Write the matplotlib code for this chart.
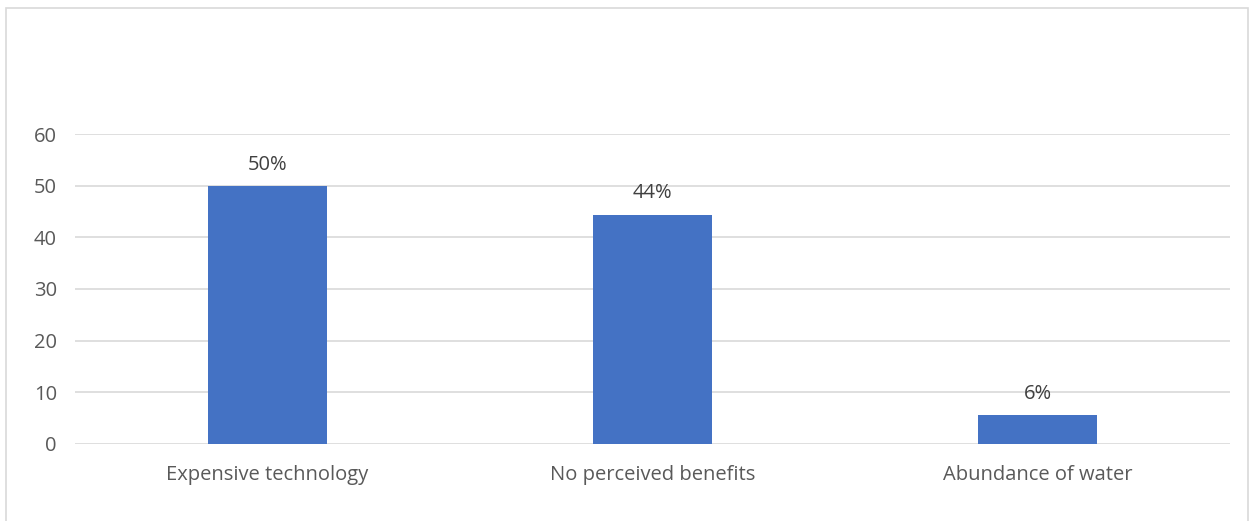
import matplotlib.pyplot as plt
from matplotlib.patches import Rectangle

categories = ['Expensive technology', 'No perceived benefits', 'Abundance of water']
values = [50, 44.4, 5.6]
labels = ['50%', '44%', '6%']
yticks = [0, 10, 20, 30, 40, 50, 60]

plt.rcParams['font.family'] = ['Open Sans', 'DejaVu Sans']
text_color = '#595959'

fig = plt.figure(figsize=(12.5, 5.21), dpi=100)
ax = fig.add_axes([0.06, 0.1478, 0.924, 0.595])

x = range(len(categories))
bars = ax.bar(x, values, width=0.31, color='#4472C4', zorder=3)
for b, lab in zip(bars, labels):
    ax.annotate(lab, (b.get_x() + b.get_width() / 2, b.get_height()),
                xytext=(0, 8), textcoords='offset points', ha='center', va='bottom',
                fontsize=14.5, color='#404040')

ax.set_xlim(-0.5, 2.5)
ax.set_ylim(0, 60)
ax.set_yticks(yticks)
ax.set_xticks(list(x))
ax.set_xticklabels(categories)
ax.yaxis.grid(True, color='#D9D9D9', linewidth=1.2, zorder=0)
ax.tick_params(axis='both', length=0, labelsize=14.5, colors=text_color)
ax.tick_params(axis='y', pad=13)
ax.tick_params(axis='x', pad=15)
for s in ax.spines.values():
    s.set_visible(False)

fig.patches.append(Rectangle((0.005, -0.01), 0.993, 0.995, transform=fig.transFigure,
                             fill=False, edgecolor='#D9D9D9', linewidth=1.2))

fig.savefig('out.png', dpi=100)
